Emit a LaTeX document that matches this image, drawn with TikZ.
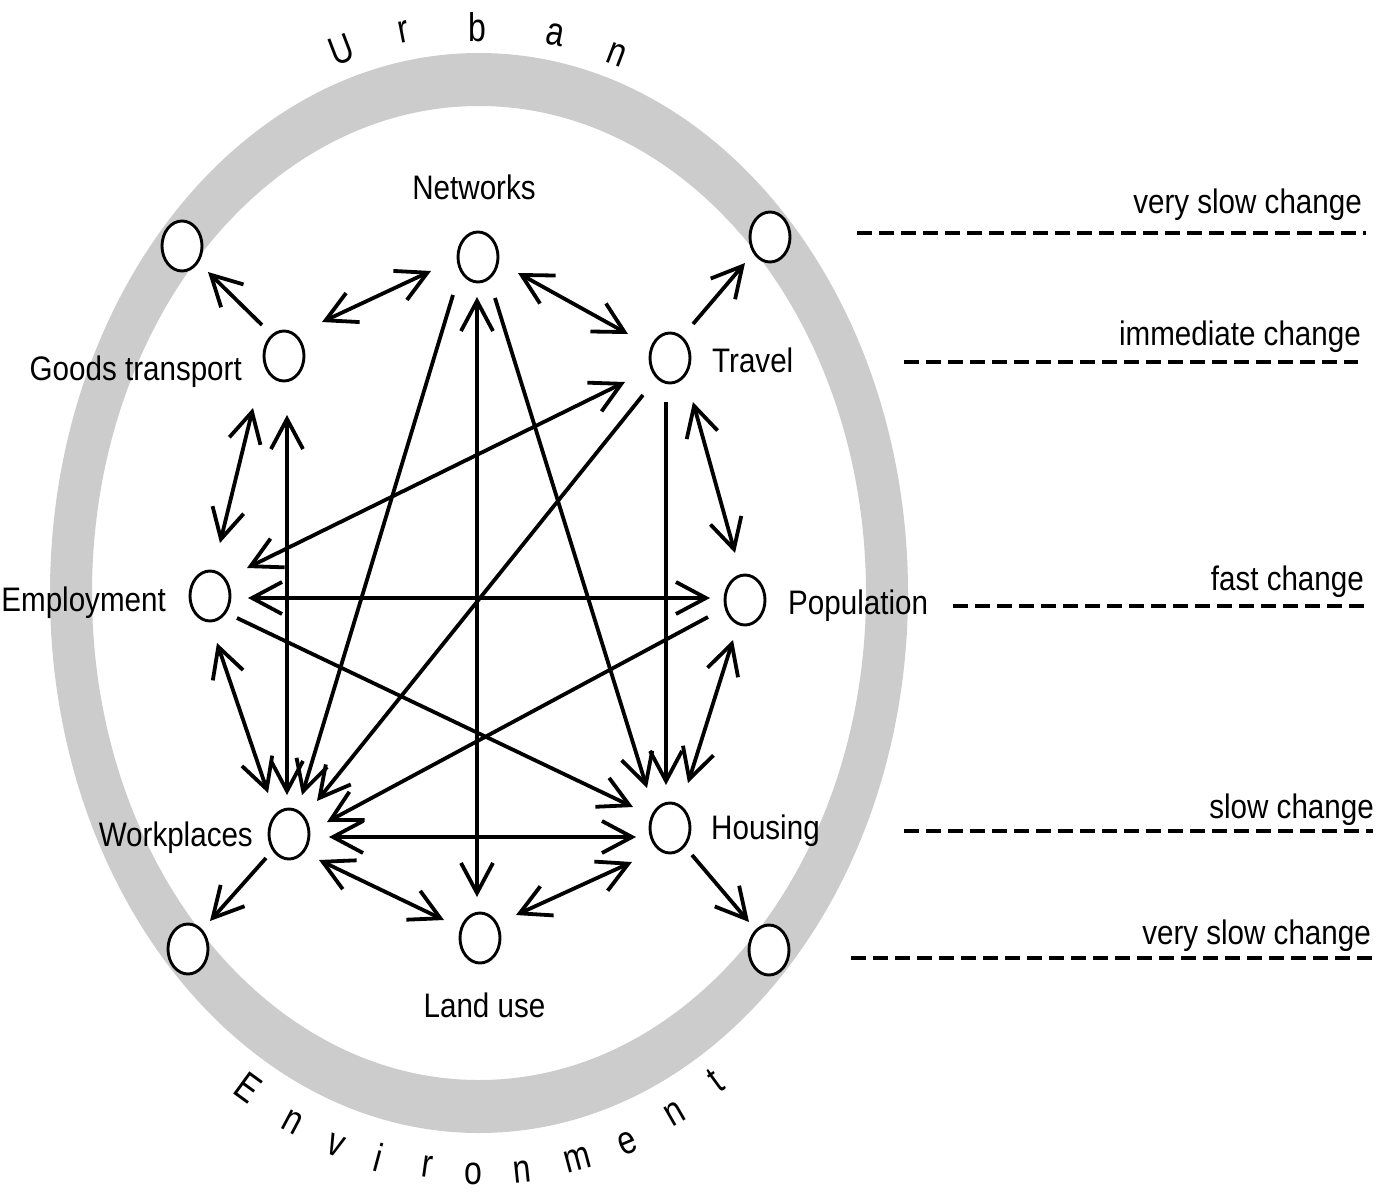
\documentclass[tikz,border=0pt]{standalone}
\usepackage{fontspec}
\setmainfont{Liberation Sans}[FakeStretch=0.87]
\newfontfamily\ringfont{Liberation Sans}[FakeStretch=0.8]
\usetikzlibrary{arrows.meta,calc,shapes.geometric}
\definecolor{ringgray}{RGB}{204,204,204}
\begin{document}
\begin{tikzpicture}[x=1pt,y=-1pt,
  dot/.style={draw, ellipse, line width=2.9pt, minimum width=40pt, minimum height=50pt, inner sep=0pt, fill=white},
  lbl/.style={font=\fontsize{34}{38}\selectfont, inner sep=0pt},
  barb/.tip={Straight Barb[length=30pt,width=32pt]},
  arr/.style={line width=3.8pt, -barb},
  darr/.style={line width=3.8pt, barb-barb},
  dline/.style={line width=3.5pt, dash pattern=on 15pt off 7pt},
  ringl/.style={font=\ringfont\fontsize{40}{44}\selectfont, inner sep=0pt}
]
\useasboundingbox (0,0) rectangle (1381,1194);
\fill[white] (0,0) rectangle (1381,1194);
% ring
\fill[ringgray, even odd rule] (479,593) ellipse (429pt and 540pt) (479,593) ellipse (387pt and 487pt);
% nodes
\node[dot] (net) at (478,257) {};
\node[dot] (goods) at (284,356) {};
\node[dot] (travel) at (670,358) {};
\node[dot] (emp) at (210,596) {};
\node[dot] (pop) at (745,600) {};
\node[dot] (work) at (289,834) {};
\node[dot] (hous) at (670,828) {};
\node[dot] (land) at (480,938) {};
\node[dot] (otl) at (182,246) {};
\node[dot] (otr) at (770,237) {};
\node[dot] (obl) at (188,949) {};
\node[dot] (obr) at (769,950) {};
% connectors
\draw[arr]  ($(goods)+(-22,-31)$) -- ($(otl)+(26,26)$);
\draw[darr] ($(goods)+(38,-34)$) -- ($(net)+(-47,14)$);
\draw[darr] ($(net)+(40,16)$) -- ($(travel)+(-42,-24)$);
\draw[arr]  ($(travel)+(23,-34)$) -- ($(otr)+(-25,26)$);
\draw[darr] ($(goods)+(-31,52)$) -- ($(emp)+(10,-53)$);
\draw[darr] ($(goods)+(3,59)$) -- ($(work)+(-2,-39)$);
\draw[arr]  ($(net)+(-25,38)$) -- ($(work)+(13,-39)$);
\draw[darr] ($(net)+(-1,40)$) -- ($(land)+(-3,-41)$);
\draw[arr]  ($(net)+(17,41)$) -- ($(hous)+(-23,-40)$);
\draw[darr] ($(travel)+(-45,24)$) -- ($(emp)+(37,-28)$);
\draw[arr]  ($(travel)+(-27,37)$) -- ($(work)+(28,-33)$);
\draw[arr]  ($(travel)+(-4,44)$) -- ($(hous)+(-4,-43)$);
\draw[darr] ($(travel)+(23,44)$) -- ($(pop)+(-10,-47)$);
\draw[darr] ($(emp)+(38,2)$) -- ($(pop)+(-35,-2)$);
\draw[arr]  ($(emp)+(27,22)$) -- ($(hous)+(-37,-21)$);
\draw[arr]  ($(pop)+(-37,17)$) -- ($(work)+(38,-12)$);
\draw[darr] ($(emp)+(7,47)$) -- ($(work)+(-21,-41)$);
\draw[darr] ($(pop)+(-12,40)$) -- ($(hous)+(18,-45)$);
\draw[darr] ($(work)+(40,3)$) -- ($(hous)+(-34,9)$);
\draw[darr] ($(work)+(30,26)$) -- ($(land)+(-36,-18)$);
\draw[darr] ($(hous)+(-38,34)$) -- ($(land)+(36,-23)$);
\draw[arr]  ($(work)+(-23,24)$) -- ($(obl)+(22,-28)$);
\draw[arr]  ($(hous)+(22,27)$) -- ($(obr)+(-20,-28)$);
% labels
\node[lbl, anchor=base] (netl) at (474,199) {Networks};
\node[lbl, anchor=base east] (goodsl) at (242,380) {Goods transport};
\node[lbl, anchor=base west] (travell) at (712,372) {Travel};
\node[lbl, anchor=base east] (empl) at (166,611) {Employment};
\node[lbl, anchor=base west] (popl) at (788,614) {Population};
\node[lbl, anchor=base east] (workl) at (253,846) {Workplaces};
\node[lbl, anchor=base west] (housl) at (711,839) {Housing};
\node[lbl, anchor=base] (landl) at (484.5,1017) {Land use};
% legend
\node[lbl, anchor=base east] (t1) at (1362,213) {very slow change};
\node[lbl, anchor=base east] (t2) at (1361,345) {immediate change};
\node[lbl, anchor=base east] (t3) at (1364,590) {fast change};
\node[lbl, anchor=base east] (t4) at (1374,818) {slow change};
\node[lbl, anchor=base east] (t5) at (1371,944) {very slow change};
\coordinate (d1a) at (857,233); \coordinate (d1b) at (1366,233);
\coordinate (d2a) at (904,362); \coordinate (d2b) at (1358,362);
\coordinate (d3a) at (953,606); \coordinate (d3b) at (1364,606);
\coordinate (d4a) at (904,831); \coordinate (d4b) at (1373,831);
\coordinate (d5a) at (851,958); \coordinate (d5b) at (1373,958);
\draw[dline] (d1a) -- (d1b);
\draw[dline] (d2a) -- (d2b);
\draw[dline] (d3a) -- (d3b);
\draw[dline] (d4a) -- (d4b);
\draw[dline] (d5a) -- (d5b);
% Urban
\node[ringl, rotate=21] (u1) at (341,50) {U};
\node[ringl, rotate=11] (u2) at (404,32) {r};
\node[ringl, rotate=0] (u3) at (477,27) {b};
\node[ringl, rotate=-11] (u4) at (555,35) {a};
\node[ringl, rotate=-21] (u5) at (617,55) {n};
% Environment
\node[ringl, rotate=-36] (e1) at (248,1088) {E};
\node[ringl, rotate=-28] (e2) at (292,1122) {n};
\node[ringl, rotate=-21] (e3) at (336,1145) {v};
\node[ringl, rotate=-15] (e4) at (379,1157) {i};
\node[ringl, rotate=-8] (e5) at (427,1167) {r};
\node[ringl, rotate=0] (e6) at (473,1174) {o};
\node[ringl, rotate=6] (e7) at (522,1172) {n};
\node[ringl, rotate=15] (e8) at (578,1160) {m};
\node[ringl, rotate=23] (e9) at (628,1143) {e};
\node[ringl, rotate=30] (e10) at (675,1114) {n};
\node[ringl, rotate=36] (e11) at (716,1081) {t};
\end{tikzpicture}
\end{document}
